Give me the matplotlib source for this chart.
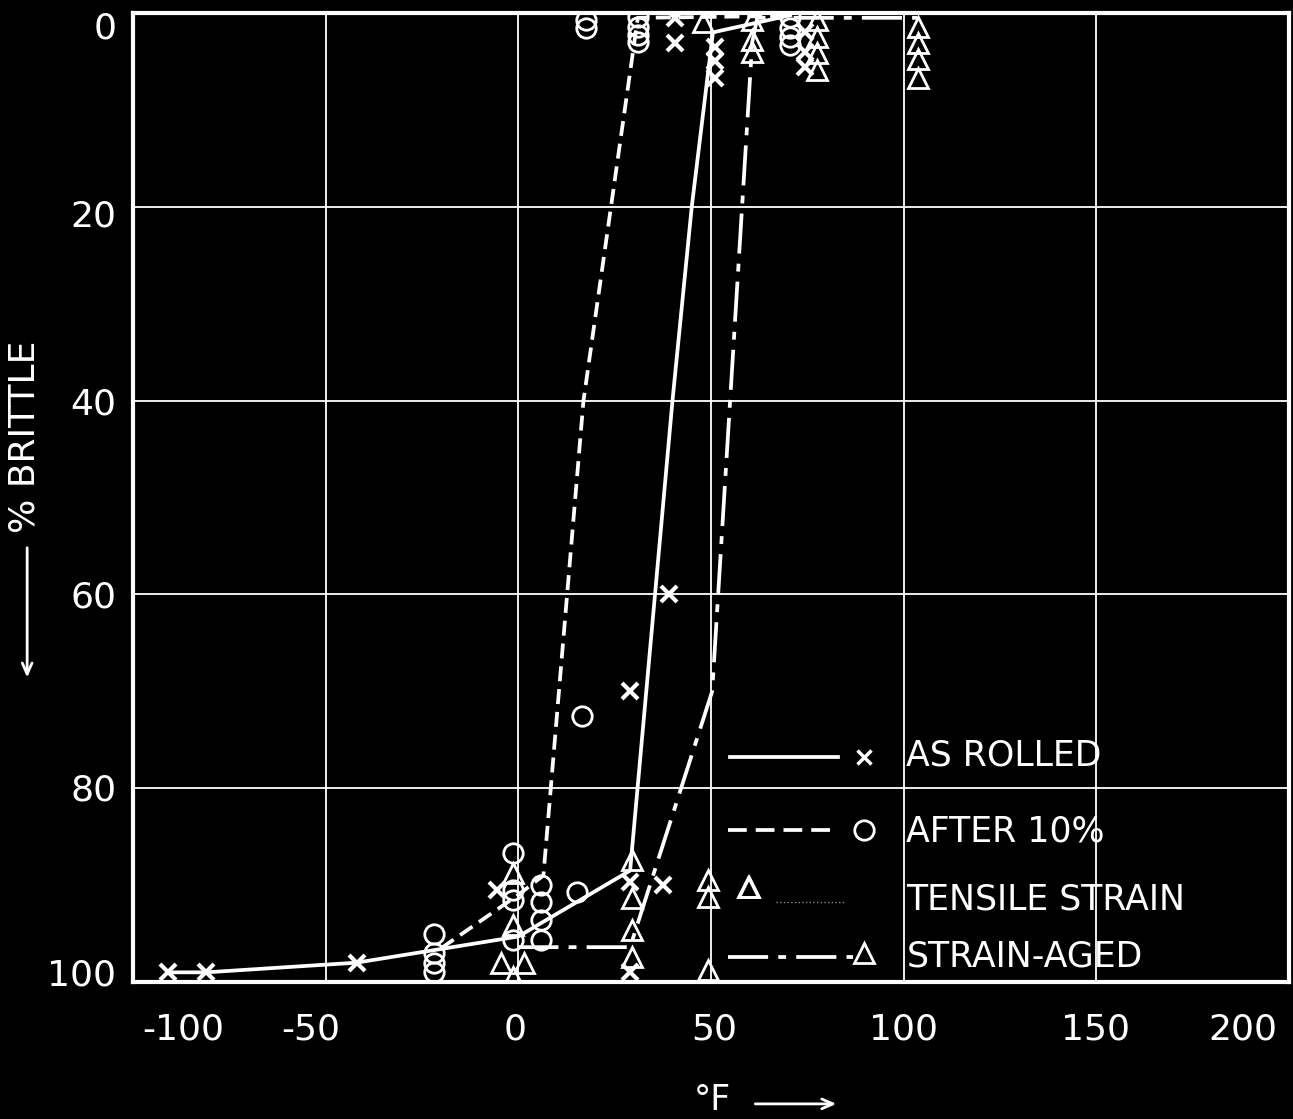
import matplotlib
matplotlib.use('Agg')
import matplotlib.pyplot as plt

plt.rcParams['font.family'] = ['DejaVu Sans']

# --- data (temperature in deg F, percent brittle) ---
rolled_line_t = [-91, -81, -42, 0, 29, 40, 45, 50.5, 71]
rolled_line_pct = [99, 99, 98, 95.3, 88.5, 40, 20, 2, 0.2]
rolled_t = [-91, -81, -42, -5.5, 29, 29, 37.5, 29, 39, 40.7, 40.7, 51, 51, 51, 74.5, 74.5, 74.5]
rolled_pct = [99, 99, 98, 90.5, 89.7, 99, 90, 70, 60, 0.5, 3.1, 3.5, 5, 6.7, 2, 4, 5.6]

after_line_t = [-20, 0, 6.5, 16.9, 31, 70.6]
after_line_pct = [96.5, 91, 89, 40, 0.5, 0.3]
after_t = [-22, -22, -22, -22, -1.5, -1.5, -1.5, -1.5, 6, 6, 6, 6, 15.3, 16.6,
           17.6, 17.6, 31.1, 31.1, 31.1, 31.1, 70.6, 70.6, 70.6, 70.6]
after_pct = [95, 97, 98, 99, 86.7, 90.5, 91.5, 95.7, 90, 91.7, 93.6, 95.7, 90.7, 72.5,
             0.7, 1.6, 0.4, 1.4, 2.3, 3, 0.4, 1.5, 2.5, 3.3]

aged_line_t = [0, 29, 50.3, 60.7, 62, 103.6]
aged_line_pct = [96.4, 96.4, 70, 3, 0.5, 0.5]
aged_t = [-1.5, -1.5, -4.5, 1.5, -1.5, 29.5, 29.5, 29.5, 29.5, 49.3, 49.3, 49.3, 59.7,
          48, 60.7, 60.7, 60.7, 77.6, 77.6, 77.6, 77.6, 103.6, 103.6, 103.6, 103.6]
aged_pct = [88.7, 94.1, 98, 98, 99.5, 87.4, 91.3, 94.6, 97.4, 89.5, 91.2, 98.8, 90.2,
            0.9, 0.7, 2.8, 4, 0.7, 2.5, 4.1, 5.9, 1.4, 3.1, 4.8, 6.7]

x_grid = [-100, -50, 0, 50, 100, 150, 200]
x_label_pos = [-87, -54, -0.8, 50.8, 100, 149.7, 188]
x_labels = ['-100', '-50', '0', '50', '100', '150', '200']
y_grid = [0, 20, 40, 60, 80, 100]
y_label_pos = [1.2, 20.6, 40, 60, 79.9, 99]
y_labels = ['0', '20', '40', '60', '80', '100']

W = 'white'
LW = 2.7
dash_after = (0, (4, 2.1))
dash_aged = (0, (10.7, 2.7, 2.1, 2.7))

fig = plt.figure(figsize=(12.93, 11.19), dpi=100, facecolor='black')
ax = fig.add_axes([0.1029, 0.1224, 0.894, 0.866])
ax.set_facecolor('black')

ax.plot(rolled_line_t, rolled_line_pct, color=W, lw=LW, solid_capstyle='butt', zorder=3)
ax.plot(after_line_t, after_line_pct, color=W, lw=LW, linestyle=dash_after, zorder=3)
ax.plot(aged_line_t, aged_line_pct, color=W, lw=LW, linestyle=dash_aged, zorder=3)

ax.plot(rolled_t, rolled_pct, 'x', color=W, ms=11, mew=3, zorder=4)
ax.plot(after_t, after_pct, 'o', mfc='none', mec=W, ms=14, mew=2, zorder=4)
ax.plot(aged_t, aged_pct, '^', mfc='none', mec=W, ms=14, mew=2, zorder=4)

ax.set_xlim(-100, 200)
ax.set_ylim(100, 0)
ax.xaxis.remove_overlapping_locs = False
ax.yaxis.remove_overlapping_locs = False
ax.set_xticks(x_grid)
ax.set_xticklabels([''] * len(x_grid))
ax.set_yticks(y_grid)
ax.set_yticklabels([''] * len(y_grid))
ax.set_xticks(x_label_pos, minor=True)
ax.set_xticklabels(x_labels, minor=True)
ax.set_yticks(y_label_pos, minor=True)
ax.set_yticklabels(y_labels, minor=True)
ax.tick_params(which='both', length=0, colors=W, labelsize=26)
ax.tick_params(axis='x', which='minor', pad=22)
ax.tick_params(axis='y', which='minor', pad=12)
ax.grid(which='major', color=W, lw=1.3)
ax.set_axisbelow(True)
for s in ax.spines.values():
    s.set_color(W)
    s.set_linewidth(3)

# hand-drawn key in the lower right corner
tr = ax.transAxes
ax.plot([0.516, 0.610], [0.232, 0.232], color=W, lw=LW, transform=tr, zorder=3)
ax.plot([0.632], [0.232], 'x', color=W, ms=10, mew=2.5, transform=tr)
ax.plot([0.515, 0.607], [0.157, 0.157], color=W, lw=LW, linestyle=(0, (5, 2.4)), transform=tr)
ax.plot([0.632], [0.157], 'o', mfc='none', mec=W, ms=14, mew=2, transform=tr)
ax.plot([0.533], [0.098], '^', mfc='none', mec=W, ms=14, mew=2, transform=tr)
ax.plot([0.556, 0.617], [0.083, 0.083], color='0.55', lw=1, linestyle=':', transform=tr)
ax.plot([0.515, 0.623], [0.026, 0.026], color=W, lw=LW, linestyle=dash_aged, transform=tr)
ax.plot([0.632], [0.030], '^', mfc='none', mec=W, ms=14, mew=2, transform=tr)
key_text = ['AS ROLLED', 'AFTER 10%', 'TENSILE STRAIN', 'STRAIN-AGED']
key_y = [0.234, 0.155, 0.085, 0.026]
for t, y in zip(key_text, key_y):
    ax.text(0.669, y, t, color=W, fontsize=25, va='center', ha='left', transform=tr)

# axis titles with arrows
fig.text(0.019, 0.61, '% BRITTLE', color=W, fontsize=26, rotation=90, ha='center', va='center')
ax.annotate('', xy=(0.021, 0.392), xytext=(0.021, 0.513), xycoords='figure fraction',
            arrowprops=dict(arrowstyle='->,head_length=0.8,head_width=0.35', color=W, lw=2))
fig.text(0.551, 0.017, '°F', color=W, fontsize=25, ha='center', va='center')
ax.annotate('', xy=(0.649, 0.0135), xytext=(0.582, 0.0135), xycoords='figure fraction',
            arrowprops=dict(arrowstyle='->,head_length=0.8,head_width=0.35', color=W, lw=2))

fig.savefig('out.png', dpi=100, facecolor='black')
